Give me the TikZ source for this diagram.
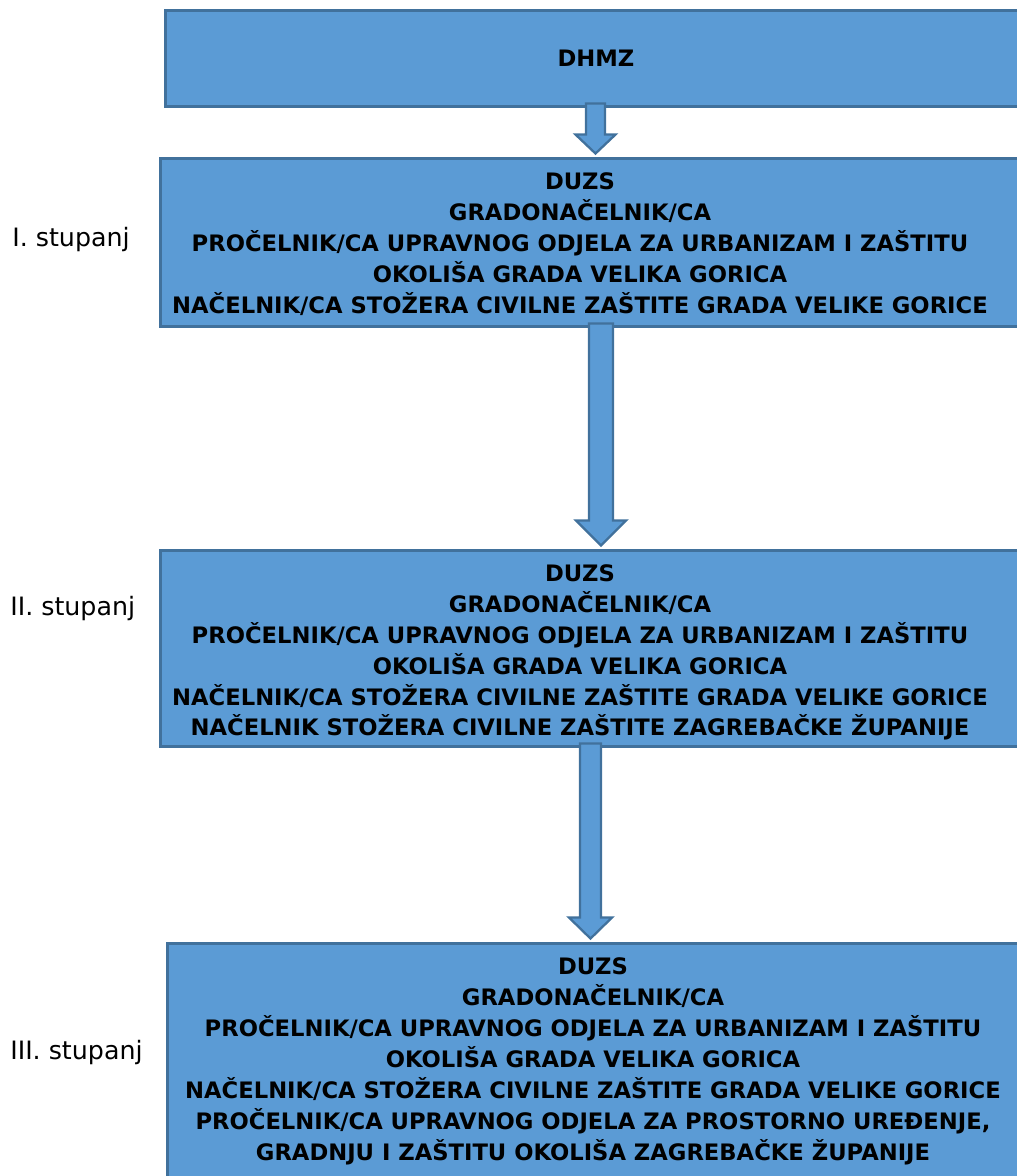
\documentclass[tikz,border=0pt]{standalone}
\usepackage{fontspec}
\setmainfont{DejaVu Sans}
\usetikzlibrary{positioning,calc}
\definecolor{boxblue}{HTML}{5B9BD5}
\definecolor{boxline}{HTML}{41719C}

% block arrow: from node, to node, x coordinate, shaft half, head half, head length
\newcommand{\flowarrow}[6]{%
  \draw[flow arrow] ($(#1.south -| #3)+(-#4,-5)$) -- ($(#1.south -| #3)+(#4,-5)$)
    -- ($(#2.north -| #3)+(#4,{-3-#6})$) -- ($(#2.north -| #3)+(#5,{-3-#6})$)
    -- ($(#2.north -| #3)+(0,-3)$)
    -- ($(#2.north -| #3)+(-#5,{-3-#6})$) -- ($(#2.north -| #3)+(-#4,{-3-#6})$) -- cycle;}

\begin{document}
\begin{tikzpicture}[x=0.02cm,y=-0.02cm,
  level box/.style={rectangle,fill=boxblue,draw=boxline,line width=1.7pt,inner sep=0pt},
  level text/.style={align=center,font=\bfseries\fontsize{12.9}{17.6}\selectfont},
  level label/.style={anchor=west,inner sep=0pt,font=\fontsize{14.4}{16}\selectfont},
  flow arrow/.style={fill=boxblue,draw=boxline,line width=1.3pt,line join=miter}]

  \useasboundingbox (0,0) rectangle (1017,1176);
  \clip (0,0) rectangle (1017,1176);

  % boxes
  \node[level box,minimum width=17.5cm,minimum height=1.94cm] (dhmz) at (602.5,58.5) {};
  \node[level box,minimum width=17.6cm,minimum height=3.38cm] (first) at (600,242.5) {};
  \node[level box,minimum width=17.6cm,minimum height=3.94cm] (second) at (600,648.5) {};
  \node[level box,minimum width=17.46cm,minimum height=4.74cm] (third) at (603.5,1061.5) {};

  % texts
  \node[level text] (dhmztext) at (596,58) {DHMZ};
  \node[level text] (firsttext) at (580,244) {DUZS\\
    GRADONAČELNIK/CA\\
    PROČELNIK/CA UPRAVNOG ODJELA ZA URBANIZAM I ZAŠTITU\\
    OKOLIŠA GRADA VELIKA GORICA\\
    NAČELNIK/CA STOŽERA CIVILNE ZAŠTITE GRADA VELIKE GORICE};
  \node[level text] (secondtext) at (580,652.5) {DUZS\\
    GRADONAČELNIK/CA\\
    PROČELNIK/CA UPRAVNOG ODJELA ZA URBANIZAM I ZAŠTITU\\
    OKOLIŠA GRADA VELIKA GORICA\\
    NAČELNIK/CA STOŽERA CIVILNE ZAŠTITE GRADA VELIKE GORICE\\
    NAČELNIK STOŽERA CIVILNE ZAŠTITE ZAGREBAČKE ŽUPANIJE};
  \node[level text] (thirdtext) at (593,1061.5) {DUZS\\
    GRADONAČELNIK/CA\\
    PROČELNIK/CA UPRAVNOG ODJELA ZA URBANIZAM I ZAŠTITU\\
    OKOLIŠA GRADA VELIKA GORICA\\
    NAČELNIK/CA STOŽERA CIVILNE ZAŠTITE GRADA VELIKE GORICE\\
    PROČELNIK/CA UPRAVNOG ODJELA ZA PROSTORNO UREĐENJE,\\
    GRADNJU I ZAŠTITU OKOLIŠA ZAGREBAČKE ŽUPANIJE};

  % labels
  \node[level label] (firstlabel) at (12,240) {I. stupanj};
  \node[level label] (secondlabel) at (10,609) {II. stupanj};
  \node[level label] (thirdlabel) at (10,1053) {III. stupanj};

  % arrows
  \coordinate (ax1) at (595.5,0);
  \coordinate (ax2) at (601,0);
  \coordinate (ax3) at (590.5,0);
  \flowarrow{dhmz}{first}{ax1}{9.5}{20}{19}
  \flowarrow{first}{second}{ax2}{12}{25}{25}
  \flowarrow{second}{third}{ax3}{10.5}{21.5}{21}
\end{tikzpicture}
\end{document}
